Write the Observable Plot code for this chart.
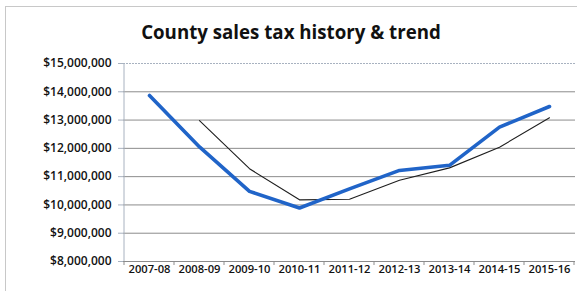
<!DOCTYPE html>
<html>
<head>
<meta charset="utf-8">
<script src="https://cdn.jsdelivr.net/npm/d3@7"></script>
<script src="https://cdn.jsdelivr.net/npm/@observablehq/plot@0.6"></script>
<style>
  html, body { margin: 0; padding: 0; background: #fff; }
  #wrap { position: relative; width: 577px; height: 291px; overflow: hidden; background: #fff; }
  #frame { position: absolute; left: 5px; top: 6px; width: 640px; height: 340px; border: 1px solid #c8c8c8; box-sizing: border-box; }
  #title { position: absolute; left: 0; top: 22px; width: 582px; text-align: center;
           font-family: "Open Sans", sans-serif; font-weight: 700; font-size: 18.7px; line-height: 19px; color: #111; }
  #chart { position: absolute; left: 0; top: 50px; }
</style>
</head>
<body>
<div id="wrap">
  <div id="frame"></div>
  <div id="title">County sales tax history &amp; trend</div>
  <div id="chart"></div>
</div>
<script>
const years = ["2007-08", "2008-09", "2009-10", "2010-11", "2011-12", "2012-13", "2013-14", "2014-15", "2015-16"];
const historyValues = [13870000, 12050000, 10480000, 9890000, 10570000, 11220000, 11400000, 12750000, 13480000];
const trendYears = ["2008-09", "2009-10", "2010-11", "2011-12", "2012-13", "2013-14", "2014-15", "2015-16"];
const trendValues = [12980000, 11280000, 10180000, 10200000, 10870000, 11310000, 12040000, 13080000];
const yTicks = [8000000, 9000000, 10000000, 11000000, 12000000, 13000000, 14000000, 15000000];

const historyData = years.map((year, i) => ({year, value: historyValues[i]}));
const trendData = trendYears.map((year, i) => ({year, value: trendValues[i]}));

// Category boundary ticks and left axis line, computed from the x scale
function boundaryTicks(index, scales, values, dimensions) {
  const x = scales.x, y = scales.y;
  const step = x(years[1]) - x(years[0]);
  const g = d3.create("svg:g");
  const y0 = y(yTicks[0]), y1 = y(yTicks[yTicks.length - 1]);
  const xs = years.map(d => x(d) - step / 2).concat([x(years[years.length - 1]) + step / 2]);
  g.selectAll("line.t").data(xs).join("line")
    .attr("x1", d => d).attr("x2", d => d)
    .attr("y1", y0).attr("y2", y0 + 4)
    .attr("stroke", "#8c8c8c");
  g.append("line")
    .attr("x1", xs[0]).attr("x2", xs[0])
    .attr("y1", y1).attr("y2", y0)
    .attr("stroke", "#a8b2c0");
  return g.node();
}

const chart = Plot.plot({
  width: 577,
  height: 241,
  marginTop: 13,
  marginBottom: 30,
  marginLeft: 123,
  marginRight: 2,
  style: {fontFamily: "Open Sans, sans-serif", fontSize: "12px", color: "#111", background: "transparent", overflow: "visible"},
  x: {type: "point", domain: years, padding: 0.5, label: null},
  y: {domain: [yTicks[0], yTicks[yTicks.length - 1]], label: null},
  marks: [
    Plot.ruleY(yTicks.slice(1, -1), {stroke: "#8c8c8c", strokeWidth: 1}),
    Plot.ruleY(yTicks.slice(-1), {stroke: "#a8b2c0", strokeWidth: 1, strokeDasharray: "2,1"}),
    Plot.ruleY(yTicks.slice(0, 1), {stroke: "#8c8c8c", strokeWidth: 1}),
    boundaryTicks,
    Plot.axisY({ticks: yTicks, tickFormat: d3.format("$,"), tickSize: 5, tickPadding: 7, stroke: "#a8b2c0", fill: "#111", fontSize: 12, fontWeight: 600, label: null}),
    Plot.axisX({tickSize: 0, tickPadding: 4, fill: "#111", fontSize: 11.2, fontWeight: 600, label: null}),
    Plot.line(trendData, {x: "year", y: "value", stroke: "#1e1e1e", strokeWidth: 1.1, strokeLinejoin: "round"}),
    Plot.line(historyData, {x: "year", y: "value", stroke: "#2064c8", strokeWidth: 3.6, strokeLinejoin: "round", strokeLinecap: "round"})
  ]
});
document.getElementById("chart").appendChild(chart);
</script>
</body>
</html>
